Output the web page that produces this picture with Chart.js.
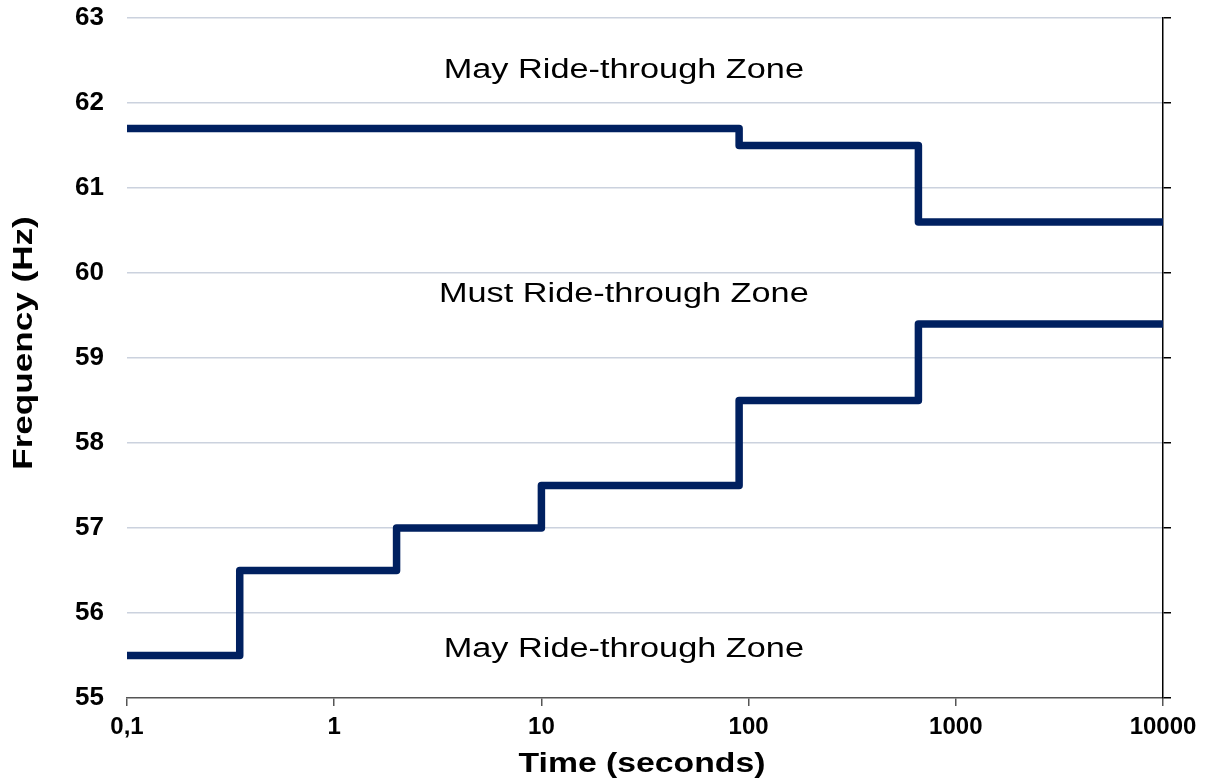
<!DOCTYPE html>
<html>
<head>
<meta charset="utf-8">
<script src="https://cdn.jsdelivr.net/npm/chart.js@4/dist/chart.umd.min.js"></script>
<style>
  body { margin: 0; background: #fff; }
  #wrap { width: 1209px; height: 784px; }
</style>
</head>
<body>
<div id="wrap"><canvas id="graphic" width="1209" height="784"></canvas></div>
<script>
// ride-through limits
const upperTimes = [0.1, 90, 660, 10000];
const upperFreq = [61.7, 61.5, 60.6, 60.6];
const lowerTimes = [0.1, 0.35, 2, 10, 90, 660, 10000];
const lowerFreq = [55.5, 56.5, 57.0, 57.5, 58.5, 59.4, 59.4];

const xTicks = [0.1, 1, 10, 100, 1000, 10000];
const yMin = 55;
const yMax = 63;

const zoneText = ['May Ride-through Zone', 'Must Ride-through Zone', 'May Ride-through Zone'];
const zoneTime = [25, 25, 25];
const zoneFreq = [62.3, 59.66, 55.48];

const xTitle = 'Time (seconds)';
const yTitle = 'Frequency (Hz)';

const navy = '#002060';
const fontFamily = '"Liberation Sans", Arial, sans-serif';

const toPoints = (xs, ys) => xs.map((x, i) => ({ x: x, y: ys[i] }));

//Draw zone labels and axis titles (slightly widened like the original)
const textPlugin = {
    id: 'zoneText',
    afterDraw(chart) {
        const ctx = chart.ctx;
        const xs = chart.scales.x;
        const ys = chart.scales.y;
        ctx.save();
        ctx.fillStyle = '#000';
        ctx.textAlign = 'center';
        ctx.textBaseline = 'alphabetic';
        ctx.font = '27px ' + fontFamily;
        for (let i = 0; i < zoneText.length; i++) {
            const px = xs.getPixelForValue(zoneTime[i]);
            const py = ys.getPixelForValue(zoneFreq[i]);
            ctx.save();
            ctx.translate(px, py);
            ctx.scale(1.27, 1);
            ctx.fillText(zoneText[i], 0, 0);
            ctx.restore();
        }
        ctx.font = 'bold 27px ' + fontFamily;
        ctx.save();
        ctx.translate((chart.chartArea.left + chart.chartArea.right) / 2 - 3, 772);
        ctx.scale(1.25, 1);
        ctx.fillText(xTitle, 0, 0);
        ctx.restore();
        ctx.save();
        ctx.translate(32, 343);
        ctx.rotate(-Math.PI / 2);
        ctx.scale(1.3, 1);
        ctx.fillText(yTitle, 0, 0);
        ctx.restore();
        ctx.restore();
    }
};

const chartElement = document.getElementById('graphic');
const newChart = new Chart(chartElement, {
    type: 'line',
    data: {
        datasets: [{
            label: 'Upper limit',
            data: toPoints(upperTimes, upperFreq),
            borderColor: navy,
            backgroundColor: navy,
            borderWidth: 7.5,
            stepped: 'before',
            pointRadius: 0,
            borderJoinStyle: 'round',
            borderCapStyle: 'butt',
            fill: false
        }, {
            label: 'Lower limit',
            data: toPoints(lowerTimes, lowerFreq),
            borderColor: navy,
            backgroundColor: navy,
            borderWidth: 7.5,
            stepped: 'before',
            pointRadius: 0,
            borderJoinStyle: 'round',
            borderCapStyle: 'butt',
            fill: false
        }]
    },
    options: {
        responsive: false,
        animation: false,
        layout: {
            padding: { left: 0, right: 38, top: 18, bottom: 0 }
        },
        plugins: {
            legend: { display: false },
            tooltip: { enabled: false }
        },
        scales: {
            x: {
                type: 'logarithmic',
                min: 0.1,
                max: 10000,
                afterBuildTicks: (scale) => {
                    scale.ticks = xTicks.map(v => ({ value: v }));
                },
                afterFit: (scale) => {
                    scale.height = 86;
                    scale.paddingLeft = 0;
                    scale.paddingRight = 0;
                },
                ticks: {
                    color: '#000',
                    font: { family: fontFamily, size: 24, weight: 'bold' },
                    padding: 7,
                    maxRotation: 0,
                    autoSkip: false,
                    callback: (v) => v === 0.1 ? '0,1' : String(v)
                },
                grid: {
                    drawOnChartArea: false,
                    drawTicks: true,
                    tickLength: 8,
                    color: '#555',
                    lineWidth: 1.5
                },
                border: { display: true, color: '#555', width: 1.5 }
            },
            y: {
                type: 'linear',
                min: yMin,
                max: yMax,
                afterFit: (scale) => {
                    scale.width = 127;
                    scale.paddingTop = 0;
                    scale.paddingBottom = 0;
                },
                ticks: {
                    stepSize: 1,
                    color: '#000',
                    font: { family: fontFamily, size: 26, weight: 'bold' },
                    padding: 23
                },
                grid: {
                    drawTicks: false,
                    color: (c) => c.tick.value === yMin ? 'rgba(0,0,0,0)' : '#cbd2de',
                    lineWidth: 1.5
                },
                border: { display: false }
            },
            y2: {
                type: 'linear',
                position: 'right',
                min: yMin,
                max: yMax,
                afterFit: (scale) => {
                    scale.width = 8;
                    scale.paddingTop = 0;
                    scale.paddingBottom = 0;
                },
                ticks: { display: false, stepSize: 1 },
                grid: {
                    drawOnChartArea: false,
                    drawTicks: true,
                    tickLength: 8,
                    color: '#000',
                    lineWidth: 1.5
                },
                border: { display: true, color: '#000', width: 1.5 }
            }
        }
    },
    plugins: [textPlugin]
});
</script>
</body>
</html>
